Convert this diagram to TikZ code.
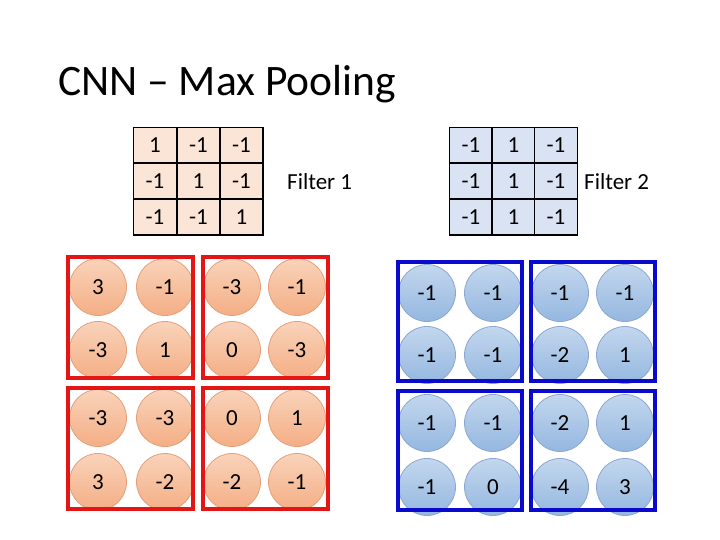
\documentclass[tikz,border=0pt]{standalone}
\usepackage{fontspec}
\setmainfont{Carlito}
\definecolor{fone}{HTML}{FBE5D6}
\definecolor{ftwo}{HTML}{DAE3F3}
\definecolor{rtop}{HTML}{F9D3BA}
\definecolor{rbot}{HTML}{F4AE85}
\definecolor{rline}{HTML}{E3A07A}
\definecolor{btop}{HTML}{C3D7EE}
\definecolor{bbot}{HTML}{94B7E0}
\definecolor{bline}{HTML}{8BA7CF}
\definecolor{redframe}{HTML}{E31515}
\definecolor{blueframe}{HTML}{0A0ACF}
\begin{document}
\begin{tikzpicture}[x=1pt,y=-1pt,
  numtxt/.style={font=\fontsize{23}{25}\selectfont},
  fcell/.style={draw=black, line width=1.5pt, minimum width=43.3pt, minimum height=35.7pt, inner sep=0pt, numtxt},
  fcellA/.style={fcell, fill=fone},
  fcellB/.style={fcell, fill=ftwo},
  rcirc/.style={circle, draw=rline, line width=0.8pt, top color=rtop, bottom color=rbot, minimum size=57pt, inner sep=0pt, numtxt},
  bcirc/.style={circle, draw=bline, line width=0.8pt, top color=btop, bottom color=bbot, minimum size=57pt, inner sep=0pt, numtxt},
  rframe/.style={draw=redframe, line width=4pt, minimum width=125pt, minimum height=121pt, inner sep=0pt},
  bframe/.style={draw=blueframe, line width=4pt, minimum width=124pt, minimum height=119pt, inner sep=0pt},
  lbl/.style={font=\fontsize{23}{25}\selectfont, anchor=west, inner sep=0pt}
]
\useasboundingbox (0,0) rectangle (720,540);
\node[anchor=base west, inner sep=0pt, font=\fontsize{43.5}{47}\selectfont] (title) at (58,96) {CNN -- Max Pooling};

% Filter 1
\node[fcellA] (a11) at (155,145.5) {1};
\node[fcellA] (a12) at (198.5,145.5) {-1};
\node[fcellA] (a13) at (241.5,145.5) {-1};
\node[fcellA] (a21) at (155,181) {-1};
\node[fcellA] (a22) at (198.5,181) {1};
\node[fcellA] (a23) at (241.5,181) {-1};
\node[fcellA] (a31) at (155,217) {-1};
\node[fcellA] (a32) at (198.5,217) {-1};
\node[fcellA] (a33) at (241.5,217) {1};
\node[lbl] (f1) at (287,182) {Filter 1};

% Filter 2
\node[fcellB] (b11) at (471,145.5) {-1};
\node[fcellB] (b12) at (513.5,145.5) {1};
\node[fcellB] (b13) at (556,145.5) {-1};
\node[fcellB] (b21) at (471,181) {-1};
\node[fcellB] (b22) at (513.5,181) {1};
\node[fcellB] (b23) at (556,181) {-1};
\node[fcellB] (b31) at (471,217) {-1};
\node[fcellB] (b32) at (513.5,217) {1};
\node[fcellB] (b33) at (556,217) {-1};
\node[lbl] (f2) at (584,182) {Filter 2};

% Red feature map
\node[rcirc] (r11) at (98,287) {3};
\node[rcirc] (r12) at (165,287) {-1};
\node[rcirc] (r13) at (232,287) {-3};
\node[rcirc] (r14) at (297,287) {-1};
\node[rcirc] (r21) at (98,350) {-3};
\node[rcirc] (r22) at (165,350) {1};
\node[rcirc] (r23) at (232,350) {0};
\node[rcirc] (r24) at (297,350) {-3};
\node[rcirc] (r31) at (98,418) {-3};
\node[rcirc] (r32) at (165,418) {-3};
\node[rcirc] (r33) at (232,418) {0};
\node[rcirc] (r34) at (297,418) {1};
\node[rcirc] (r41) at (98,482) {3};
\node[rcirc] (r42) at (165,482) {-2};
\node[rcirc] (r43) at (232,482) {-2};
\node[rcirc] (r44) at (297,482) {-1};

% Blue feature map
\node[bcirc] (s11) at (427,293) {-1};
\node[bcirc] (s12) at (493,293) {-1};
\node[bcirc] (s13) at (560,293) {-1};
\node[bcirc] (s14) at (625,293) {-1};
\node[bcirc] (s21) at (427,355) {-1};
\node[bcirc] (s22) at (493,355) {-1};
\node[bcirc] (s23) at (560,355) {-2};
\node[bcirc] (s24) at (625,355) {1};
\node[bcirc] (s31) at (427,423) {-1};
\node[bcirc] (s32) at (493,423) {-1};
\node[bcirc] (s33) at (560,423) {-2};
\node[bcirc] (s34) at (625,423) {1};
\node[bcirc] (s41) at (427,487) {-1};
\node[bcirc] (s42) at (493,487) {0};
\node[bcirc] (s43) at (560,487) {-4};
\node[bcirc] (s44) at (625,487) {3};

% Pooling frames
\node[rframe] (rp1) at (130.5,317.5) {};
\node[rframe] (rp2) at (265,317.5) {};
\node[rframe] (rp3) at (130.5,448) {};
\node[rframe] (rp4) at (265,448) {};
\node[bframe] (bp1) at (460,321.5) {};
\node[bframe] (bp2) at (592.5,321.5) {};
\node[bframe] (bp3) at (460,450) {};
\node[bframe] (bp4) at (592.5,450) {};
\end{tikzpicture}
\end{document}
